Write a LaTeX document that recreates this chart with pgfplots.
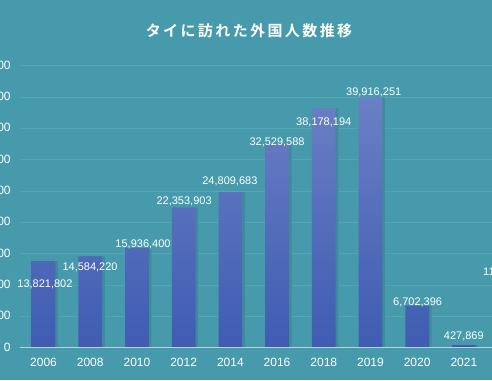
\documentclass[border=0pt]{standalone}
\usepackage{pgfplots}
\pgfplotsset{compat=1.18}
\usepackage{fontspec}
\setmainfont{Liberation Sans}
\newfontfamily\jp{Noto Sans CJK JP Bold}[LetterSpace=16]
\definecolor{bg}{HTML}{479AAB}
\definecolor{gridc}{HTML}{56A5B4}
\definecolor{axisc}{HTML}{B5D6DD}
\definecolor{bartop}{HTML}{6A7FC4}
\definecolor{barbot}{HTML}{3F5CB2}
\definecolor{shadowc}{HTML}{3E8C9A}
\begin{document}
\begin{tikzpicture}
\useasboundingbox (0,0) rectangle (492pt,380pt);
\clip (0,0) rectangle (492pt,380pt);
\fill[bg] (0,0) rectangle (492pt,380pt);
\node[text=white, font=\jp\fontsize{15pt}{18pt}\selectfont] at (249pt,349pt) {タイに訪れた外国人数推移};
\begin{axis}[
  at={(20.2pt,32.3pt)}, anchor=south west,
  scale only axis, width=513.7pt, height=282pt,
  xmin=-0.5, xmax=10.5, ymin=0, ymax=45000000,
  axis line style={draw=none},
  major tick length=0pt,
  xtick={0,1,2,3,4,5,6,7,8,9,10},
  xticklabels={2006,2008,2010,2012,2014,2016,2018,2019,2020,2021,2022},
  ytick={0,5000000,10000000,15000000,20000000,25000000,30000000,35000000,40000000,45000000},
  scaled y ticks=false,
  /pgf/number format/.cd, fixed, 1000 sep={,}, assume math mode=true,
  /pgfplots/.cd,
  ymajorgrids, grid style={gridc, line width=0.9pt},
  tick label style={text=white, font=\fontsize{12pt}{14pt}\selectfont},
  yticklabel style={anchor=east, xshift=-6pt},
  xticklabel style={yshift=-7pt},
  clip=false,
]
\addplot[ybar, bar width=25pt, bar shift=2pt, draw=none, fill=shadowc] coordinates {
(0,13821802) (1,14584220) (2,15936400) (3,22353903) (4,24809683) (5,32529588) (6,38178194) (7,39916251) (8,6702396) (9,427869) (10,11153026)};
\addplot[ybar, bar width=23.7pt, bar shift=0pt, draw=none, top color=bartop, bottom color=barbot] coordinates {
(0,13821802) (1,14584220) (2,15936400) (3,22353903) (4,24809683) (5,32529588) (6,38178194) (7,39916251) (8,6702396) (9,427869) (10,11153026)};
\draw[axisc, line width=1.2pt] (axis cs:-0.5,0) -- (axis cs:10.5,0);
\begin{scope}[every node/.style={text=white, font=\fontsize{11pt}{13pt}\selectfont, inner sep=0pt}]
\node at (axis cs:0.03,10160000) {13,821,802};
\node at (axis cs:0.996,12880000) {14,584,220};
\node at (axis cs:2.13,16550000) {15,936,400};
\node at (axis cs:3.01,23410000) {22,353,903};
\node at (axis cs:3.99,26490000) {24,809,683};
\node at (axis cs:5.0,32710000) {32,529,588};
\node at (axis cs:6.0,35900000) {38,178,194};
\node at (axis cs:7.07,40760000) {39,916,251};
\node at (axis cs:8.01,7240000) {6,702,396};
\node at (axis cs:9.0,1870000) {427,869};
\node[anchor=west] at (axis cs:9.41,11970000) {11,153,026};
\end{scope}
\end{axis}
\end{tikzpicture}
\end{document}
